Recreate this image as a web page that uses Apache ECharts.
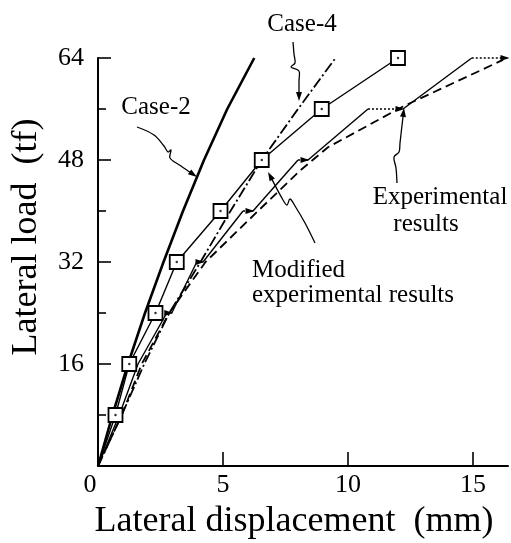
<!DOCTYPE html>
<html><head><meta charset="utf-8">
<script src="https://cdn.jsdelivr.net/npm/echarts@6/dist/echarts.min.js"></script>
<style>html,body{margin:0;padding:0;background:#fff}#c{width:511px;height:543px}</style>
</head><body><div id="c"></div>
<script>
// ---- data ----
const xTicks = [0, 5, 10, 15];
const yTicks = [16, 32, 48, 64];
const case2X = [0, 0.58, 1.2, 1.88, 2.62, 3.4, 4.24, 5.17, 6.25];
const case2Y = [0, 8, 16, 24, 32, 40, 48, 56, 64];
const case4X = [0, 0.95, 1.85, 2.85, 4.1, 5.3, 6.55, 8.0, 9.5];
const case4Y = [0, 8, 16, 24, 32, 40, 48, 56, 64];
const squareX = [0, 0.7, 1.25, 2.3, 3.15, 4.9, 6.55, 8.95, 12.0];
const squareY = [0, 8, 16, 24, 32, 40, 48, 56, 64];
const stepX = [0, 0.85, 1.6, 2.75, 2.95, 3.95, 4.2, 5.8, 6.2, 8.0, 8.4, 10.8, 12.2, 14.95, 16.4];
const stepY = [0, 8, 16, 24, 24, 32, 32, 40, 40, 48, 48, 56, 56, 64, 64];
const dashX = [0, 0.95, 1.75, 2.85, 4.3, 6.4, 8.1, 9.2, 12.2, 16.2];
const dashY = [0, 8, 16, 24, 32, 40, 46.4, 50, 56.4, 63.7];

const FF = "'Liberation Serif','Times New Roman',serif";
const zip = (xs, ys) => xs.map((x, i) => [x, ys[i]]);

const series = [];
series.push({type:'line', name:'Case-2', data: zip(case2X, case2Y), symbol:'none', clip:false,
  lineStyle:{color:'#000', width:2.6}, z:3});
series.push({type:'line', name:'Case-4', data: zip(case4X, case4Y), symbol:'none', clip:false,
  lineStyle:{color:'#000', width:1.8, type:[11,3,2,3]}, z:3});
series.push({type:'line', name:'Dashed', data: zip(dashX, dashY), symbol:'none', clip:false,
  lineStyle:{color:'#000', width:1.8, type:[9,5]}, z:3});

// stepped experimental curve: rising parts solid, plateaus dotted with arrowheads
let run = [[stepX[0], stepY[0]]];
for (let i = 1; i < stepX.length; i++) {
  if (stepY[i] === stepY[i-1]) {
    if (run.length > 1) series.push({type:'line', data: run, symbol:'none', clip:false, lineStyle:{color:'#000', width:1.4}, z:4});
    series.push({type:'line', data:[[stepX[i-1], stepY[i-1]], {value:[stepX[i], stepY[i]], symbol:'triangle', symbolRotate:-90, symbolSize:[6,9], symbolOffset:[-3,0]}],
      symbol:'none', clip:false, lineStyle:{color:'#000', width:1.5, type:[2,2]}, itemStyle:{color:'#000'}, z:4});
    run = [[stepX[i], stepY[i]]];
  } else {
    run.push([stepX[i], stepY[i]]);
  }
}
if (run.length > 1) series.push({type:'line', data: run, symbol:'none', clip:false, lineStyle:{color:'#000', width:1.4}, z:4});

const sqData = zip(squareX, squareY).map((p, i) => i === 0 ? {value:p, symbol:'none'} : p);
series.push({type:'line', name:'Squares', data: sqData, symbol:'rect', symbolSize:14, clip:false,
  lineStyle:{color:'#000', width:1.4}, itemStyle:{color:'#fff', borderColor:'#000', borderWidth:1.8}, z:6});
series.push({type:'scatter', data: zip(squareX, squareY).slice(1), symbol:'circle', symbolSize:2.5,
  itemStyle:{color:'#000'}, z:7});

// ---- annotation helpers ----
function arrowGraphic(pts, lw) {
  const n = pts.length, p2 = pts[n-1], p1 = pts[n-2];
  let dx = p2[0]-p1[0], dy = p2[1]-p1[1]; const L = Math.hypot(dx, dy); dx/=L; dy/=L;
  const len = 9, w = 3;
  const bx = p2[0]-dx*len, by = p2[1]-dy*len;
  return [
    {type:'polyline', shape:{points: pts.slice(0, n-1).concat([[bx+dx*2, by+dy*2]]), smooth:0.35}, style:{stroke:'#000', lineWidth:lw, fill:null}, z:10},
    {type:'polygon', shape:{points:[p2, [bx-dy*w, by+dx*w], [bx+dy*w, by-dx*w]]}, style:{fill:'#000'}, z:10}
  ];
}
function txt(x, y, t, size, align, rot) {
  return {type:'text', x:x, y:y, rotation: rot || 0, z:10,
    style:{text:t, fontSize:size, fontFamily:FF, fill:'#000', align: align || 'center', verticalAlign:'middle'}};
}

const graphics = [].concat(
  arrowGraphic([[137,127],[154,135],[164,146],[168,152],[171,150],[170,158],[181,166],[197,177]], 1.3),
  arrowGraphic([[293,42],[294,54],[295,63],[291,67],[299,71],[299,80],[299,101]], 1.3),
  arrowGraphic([[397,183],[396,168],[394,157],[399,152],[400,143],[404,108]], 1.3),
  arrowGraphic([[315,243],[305,223],[295,206],[290,199],[287,205],[283,200],[268,172]], 1.3),
  [
    txt(156,107,'Case-2',25),
    txt(302,24,'Case-4',25),
    txt(440,197,'Experimental',25),
    txt(426,224,'results',25),
    txt(252,270,'Modified',25,'left'),
    txt(252,295,'experimental results',25,'left'),
    txt(294,522,'Lateral displacement  (mm)',36),
    txt(27,237,'Lateral load  (tf)',36,'center',Math.PI/2)
  ]
);

const chart = echarts.init(document.getElementById('c'), null, {renderer:'canvas'});
chart.setOption({
  animation:false,
  backgroundColor:'#fff',
  grid:{left:98, top:58, right:3, bottom:77, containLabel:false, outerBoundsMode:'none'},
  xAxis:{type:'value', min:0, max:16.4,
    axisLine:{show:true, onZero:false, lineStyle:{color:'#000', width:2}},
    axisTick:{show:true, inside:true, length:14, customValues:xTicks, lineStyle:{color:'#000', width:1.6}},
    axisLabel:{show:true, customValues:xTicks, fontSize:26, fontFamily:FF, color:'#000', margin:6,
      formatter: v => v === 0 ? '{z|0}' : String(v),
      rich:{z:{fontSize:26, fontFamily:FF, color:'#000', padding:[0,16,0,0]}}},
    splitLine:{show:false}},
  yAxis:{type:'value', min:0, max:64, interval:16,
    axisLine:{show:true, onZero:false, lineStyle:{color:'#000', width:2}},
    axisTick:{show:true, inside:true, length:13, lineStyle:{color:'#000', width:1.6}},
    minorTick:{show:true, splitNumber:2, length:8, lineStyle:{color:'#000', width:1.6}},
    axisLabel:{show:true, fontSize:26, fontFamily:FF, color:'#000', margin:14,
      formatter: v => yTicks.indexOf(v) >= 0 ? String(v) : ''},
    splitLine:{show:false}},
  series: series,
  graphic: graphics
});
</script>
</body></html>
